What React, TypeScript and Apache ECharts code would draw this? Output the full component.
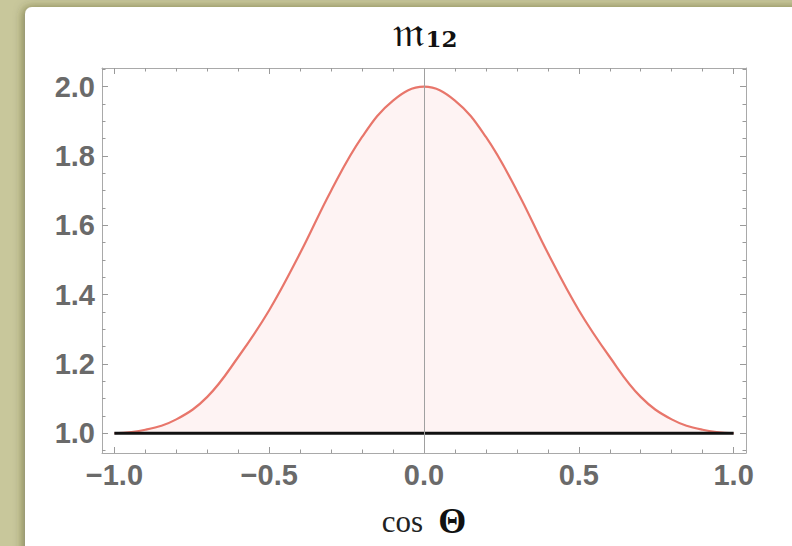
import React, { useEffect, useRef } from "react";
import * as echarts from "echarts";

// cos Θ sample points and the m12 curve read at those points
const cosTheta = [-1, -0.9, -0.8, -0.7, -0.6, -0.5, -0.4, -0.3, -0.2, -0.1, 0, 0.1, 0.2, 0.3, 0.4, 0.5, 0.6, 0.7, 0.8, 0.9, 1];
const m12Values = [1.0, 1.01, 1.04, 1.105, 1.22, 1.355, 1.52, 1.7, 1.855, 1.96, 2.0, 1.96, 1.855, 1.7, 1.52, 1.355, 1.22, 1.105, 1.04, 1.01, 1.0];

// flat reference level
const baselineX = [-1, 1];
const baselineY = [1, 1];

// tick positions
const xMajorTicks = [-1, -0.5, 0, 0.5, 1];
const xMinorTicks = [-0.9, -0.8, -0.7, -0.6, -0.4, -0.3, -0.2, -0.1, 0.1, 0.2, 0.3, 0.4, 0.6, 0.7, 0.8, 0.9];
const yMajorTicks = [1.0, 1.2, 1.4, 1.6, 1.8, 2.0];
const yMinorTicks = [0.95, 1.05, 1.1, 1.15, 1.25, 1.3, 1.35, 1.45, 1.5, 1.55, 1.65, 1.7, 1.75, 1.85, 1.9, 1.95, 2.05];

const X_MIN = -1.04;
const X_MAX = 1.04;
const Y_MIN = 0.943;
const Y_MAX = 2.054;

const frameColor = "#a9a9a9";
const tickColor = "#9a9a9a";
const labelStyle = {
  color: "#6a6a6a",
  fontSize: 29,
  fontWeight: "bold" as const,
  fontFamily: "Liberation Sans, Arial, sans-serif",
};

const fmtX = (v: number) => (v < 0 ? "\u2212" + Math.abs(v).toFixed(1) : v.toFixed(1));
const fmtY = (v: number) => v.toFixed(1);

function xAxisDef(position: "bottom" | "top", major: boolean) {
  return {
    type: "value",
    min: X_MIN,
    max: X_MAX,
    position,
    axisLine: { show: major, onZero: false, lineStyle: { color: frameColor, width: 1 } },
    splitLine: { show: false },
    axisTick: {
      show: true,
      inside: true,
      length: major ? 6 : 3.5,
      customValues: major ? xMajorTicks : xMinorTicks,
      lineStyle: { color: tickColor, width: 1 },
    },
    axisLabel:
      major && position === "bottom"
        ? { show: true, customValues: xMajorTicks, formatter: fmtX, margin: 7, ...labelStyle }
        : { show: false },
  };
}

function yAxisDef(position: "left" | "right", major: boolean) {
  return {
    type: "value",
    min: Y_MIN,
    max: Y_MAX,
    position,
    axisLine: { show: major, onZero: false, lineStyle: { color: frameColor, width: 1 } },
    splitLine: { show: false },
    axisTick: {
      show: true,
      inside: true,
      length: major ? 6 : 3.5,
      customValues: major ? yMajorTicks : yMinorTicks,
      lineStyle: { color: tickColor, width: 1 },
    },
    axisLabel:
      major && position === "left"
        ? { show: true, customValues: yMajorTicks, formatter: fmtY, margin: 7, ...labelStyle }
        : { show: false },
  };
}

export default function App() {
  const ref = useRef<HTMLDivElement>(null);

  useEffect(() => {
    if (!ref.current) return;
    const chart = echarts.init(ref.current, undefined, { renderer: "svg" });
    chart.setOption({
      animation: false,
      backgroundColor: "#c8c79b",
      graphic: [
        {
          type: "rect",
          silent: true,
          z: -10,
          shape: { x: 25, y: 7, width: 800, height: 600, r: [7, 0, 0, 0] },
          style: {
            fill: "#ffffff",
            shadowBlur: 10,
            shadowColor: "rgba(60,60,20,0.5)",
            shadowOffsetX: -2,
            shadowOffsetY: 0,
          },
        },
        {
          type: "text",
          silent: true,
          x: 425,
          y: 10,
          style: {
            text: "{m|\uD835\uDD2A}{s|12}",
            align: "center",
            verticalAlign: "top",
            rich: {
              m: { fontFamily: "DejaVu Serif, serif", fontSize: 42, fill: "#111" },
              s: {
                fontFamily: "DejaVu Serif, serif",
                fontWeight: "bold",
                fontSize: 23,
                fill: "#111",
                padding: [15, 0, 0, 1],
              },
            },
          },
        },
      ],
      grid: { left: 102, top: 68, width: 644, height: 385, containLabel: false },
      xAxis: [
        {
          ...xAxisDef("bottom", true),
          name: "{c|cos}{g|}{t|\u0398}",
          nameLocation: "middle",
          nameGap: 50,
          nameTextStyle: {
            rich: {
              c: { fontFamily: "Liberation Serif, serif", fontSize: 31, color: "#222" },
              g: { width: 15 },
              t: { fontFamily: "Liberation Serif, serif", fontWeight: "bold", fontSize: 36, color: "#111" },
            },
          },
        },
        xAxisDef("bottom", false),
        xAxisDef("top", true),
        xAxisDef("top", false),
      ],
      yAxis: [yAxisDef("left", true), yAxisDef("left", false), yAxisDef("right", true), yAxisDef("right", false)],
      series: [
        {
          name: "m12",
          type: "line",
          xAxisIndex: 0,
          yAxisIndex: 0,
          data: cosTheta.map((x, i) => [x, m12Values[i]]),
          smooth: 0.4,
          showSymbol: false,
          symbol: "none",
          lineStyle: { color: "#e8766b", width: 2.2 },
          areaStyle: { color: "#fef3f3", opacity: 1, origin: 1 },
          z: 2,
        },
        {
          name: "baseline",
          type: "line",
          xAxisIndex: 0,
          yAxisIndex: 0,
          data: baselineX.map((x, i) => [x, baselineY[i]]),
          showSymbol: false,
          symbol: "none",
          lineStyle: { color: "#111111", width: 3 },
          z: 3,
          markLine: {
            silent: true,
            symbol: "none",
            label: { show: false },
            lineStyle: { color: "#a0a0a0", width: 1, type: "solid" },
            data: [{ xAxis: 0 }],
          },
        },
      ],
    });
    return () => chart.dispose();
  }, []);

  return (
    <div
      ref={ref}
      style={{ position: "absolute", left: 0, top: 0, width: 792, height: 546 }}
    />
  );
}
